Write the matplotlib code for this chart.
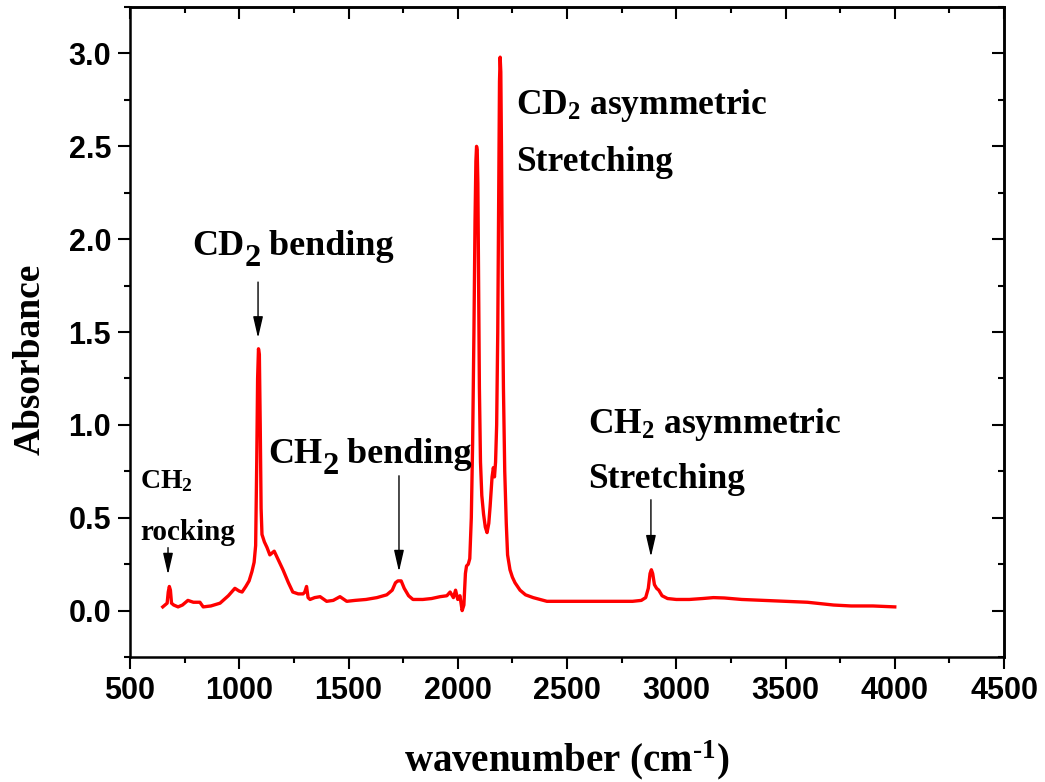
import matplotlib
matplotlib.use("Agg")
import matplotlib.pyplot as plt
from matplotlib.ticker import MultipleLocator

plt.rcParams['mathtext.fontset'] = 'custom'
plt.rcParams['mathtext.rm'] = 'Liberation Serif:bold'
plt.rcParams['mathtext.bf'] = 'Liberation Serif:bold'
plt.rcParams['mathtext.it'] = 'Liberation Serif:bold'

# spectrum
wavenumber = [650, 660, 670, 675, 680, 685, 690, 700, 720, 740, 765, 790, 820, 835, 870,
              912, 950, 980, 1000, 1013, 1030, 1045, 1058, 1068, 1075, 1080, 1084, 1088,
              1092, 1096, 1100, 1104, 1115, 1127, 1140, 1160, 1180, 1200, 1225, 1245,
              1270, 1292, 1300, 1308, 1315, 1324, 1345, 1370, 1400, 1430, 1461, 1492,
              1530, 1580, 1630, 1675, 1700, 1715, 1726, 1741, 1755, 1775, 1795, 1840,
              1880, 1919, 1950, 1965, 1980, 1990, 2000, 2010, 2020, 2028, 2035, 2040,
              2048, 2055, 2062, 2068, 2074, 2079, 2083, 2086, 2089, 2092, 2095, 2099,
              2104, 2110, 2118, 2126, 2134, 2142, 2148, 2157, 2163, 2168, 2173, 2178,
              2183, 2187, 2191, 2194, 2197, 2200, 2204, 2209, 2215, 2222, 2228, 2239,
              2250, 2262, 2285, 2310, 2345, 2408, 2500, 2600, 2700, 2800, 2840,
              2860, 2872, 2880, 2886, 2892, 2900, 2910, 2920, 2935, 2960, 3000, 3060,
              3120, 3170, 3220, 3300, 3400, 3500, 3600, 3680, 3720, 3800, 3900, 4000]
absorbance = [0.02, 0.03, 0.04, 0.10, 0.13, 0.11, 0.04, 0.03, 0.02, 0.03, 0.055, 0.045,
              0.045, 0.02, 0.025, 0.04, 0.08, 0.12, 0.105, 0.10, 0.13, 0.16, 0.21, 0.26,
              0.35, 0.8, 1.25, 1.41, 1.38, 1.0, 0.55, 0.41, 0.37, 0.34, 0.30, 0.32, 0.27,
              0.22, 0.15, 0.10, 0.09, 0.09, 0.10, 0.13, 0.07, 0.06, 0.07, 0.075, 0.05,
              0.055, 0.075, 0.05, 0.055, 0.06, 0.07, 0.085, 0.11, 0.15, 0.16, 0.16, 0.12,
              0.08, 0.06, 0.06, 0.065, 0.075, 0.08, 0.10, 0.07, 0.11, 0.06, 0.08, 0.0,
              0.03, 0.2, 0.24, 0.25, 0.28, 0.5, 0.9, 1.5, 2.1, 2.42, 2.5, 2.48, 2.3, 1.8,
              1.2, 0.8, 0.62, 0.52, 0.45, 0.42, 0.47, 0.56, 0.72, 0.77, 0.72, 0.8, 1.0, 1.5,
              2.2, 2.85, 2.98, 2.9, 2.5, 1.8, 1.2, 0.75, 0.47, 0.3, 0.22, 0.18, 0.15,
              0.11, 0.085, 0.07, 0.05, 0.05, 0.05, 0.05, 0.05, 0.055, 0.07, 0.12,
              0.2, 0.22, 0.2, 0.14, 0.12, 0.11, 0.08, 0.065, 0.06, 0.06, 0.065, 0.07,
              0.068, 0.06, 0.055, 0.05, 0.045, 0.035, 0.03, 0.025, 0.025, 0.02]

serif = 'Liberation Serif'
sans = 'Liberation Sans'

fig = plt.figure(figsize=(10.45, 7.82), dpi=100)
ax = fig.add_axes([0.1244, 0.1598, 0.8364, 0.8312])

ax.plot(wavenumber, absorbance, color='#ff0000', lw=2.4)

ax.set_xlim(500, 4500)
ax.set_ylim(-0.25, 3.25)
ax.xaxis.set_major_locator(MultipleLocator(500))
ax.xaxis.set_minor_locator(MultipleLocator(250))
ax.yaxis.set_major_locator(MultipleLocator(0.5))
ax.yaxis.set_minor_locator(MultipleLocator(0.25))
ax.set_yticks([0, 0.5, 1.0, 1.5, 2.0, 2.5, 3.0])
ax.set_yticklabels(['0.0', '0.5', '1.0', '1.5', '2.0', '2.5', '3.0'])

for s in ax.spines.values():
    s.set_linewidth(1.8)
ax.tick_params(which='major', direction='out', length=8.5, width=1.5, labelsize=22, pad=5)
ax.tick_params(which='minor', direction='out', length=4.3, width=1.5)
for lab in ax.get_xticklabels() + ax.get_yticklabels():
    lab.set_fontfamily(sans)
    lab.set_fontweight('bold')

# inward ticks on top and right
top = ax.secondary_xaxis('top')
top.xaxis.set_major_locator(MultipleLocator(500))
top.xaxis.set_minor_locator(MultipleLocator(250))
top.tick_params(which='major', direction='in', length=8.5, width=1.5, labeltop=False)
top.tick_params(which='minor', direction='in', length=4.3, width=1.5)
top.spines['top'].set_linewidth(1.8)
right = ax.secondary_yaxis('right')
right.yaxis.set_major_locator(MultipleLocator(0.5))
right.yaxis.set_minor_locator(MultipleLocator(0.25))
right.tick_params(which='major', direction='in', length=8.5, width=1.5, labelright=False)
right.tick_params(which='minor', direction='in', length=4.3, width=1.5)
right.spines['right'].set_linewidth(1.8)

ax.set_xlabel('wavenumber (cm$^{\u2010 1}$)', fontsize=28, fontfamily=serif, fontweight='bold')
ax.set_ylabel('Absorbance', fontsize=27, fontfamily=serif, fontweight='bold')
ax.xaxis.set_label_coords(0.5, -0.125)
ax.yaxis.set_label_coords(-0.094, 0.458)

tkw = dict(fontfamily=serif, fontweight='bold', ha='left', va='baseline')

# CH2 rocking
ax.text(546, 0.661, r'CH$_2$', fontsize=20, **tkw)
ax.text(546, 0.38, 'rocking', fontsize=21, **tkw)

# labels with a large subscript
def big_sub(x, y, head, tail, size):
    t1 = ax.text(x, y, head, fontsize=size, **tkw)
    t2 = ax.annotate('2', xy=(1, 0), xycoords=t1, xytext=(0, -7), textcoords='offset points',
                     fontsize=size * 0.9, fontfamily=serif, fontweight='bold', va='bottom')
    ax.annotate(tail, xy=(1, 0), xycoords=t2, xytext=(0, 7), textcoords='offset points',
                fontsize=size, fontfamily=serif, fontweight='bold', va='bottom')

big_sub(784, 1.914, 'CD', ' bending', 26)
big_sub(1132, 0.796, 'CH', ' bending', 26)

ax.text(2267, 2.672, r'CD$_2$ asymmetric', fontsize=25.5, **tkw)
ax.text(2267, 2.366, 'Stretching', fontsize=25.5, **tkw)
ax.text(2596, 0.957, r'CH$_2$ asymmetric', fontsize=25.5, **tkw)
ax.text(2596, 0.661, 'Stretching', fontsize=25.5, **tkw)

arrow = dict(arrowstyle='-|>,head_length=0.65,head_width=0.15', color='black', lw=1,
             mutation_scale=20, shrinkA=0, shrinkB=0)
ax.annotate('', xy=(674, 0.194), xytext=(674, 0.339), arrowprops=arrow)
ax.annotate('', xy=(1086, 1.468), xytext=(1086, 1.769), arrowprops=arrow)
ax.annotate('', xy=(1731, 0.21), xytext=(1731, 0.726), arrowprops=arrow)
ax.annotate('', xy=(2884, 0.29), xytext=(2884, 0.597), arrowprops=arrow)

fig.savefig('out.png', dpi=100)
